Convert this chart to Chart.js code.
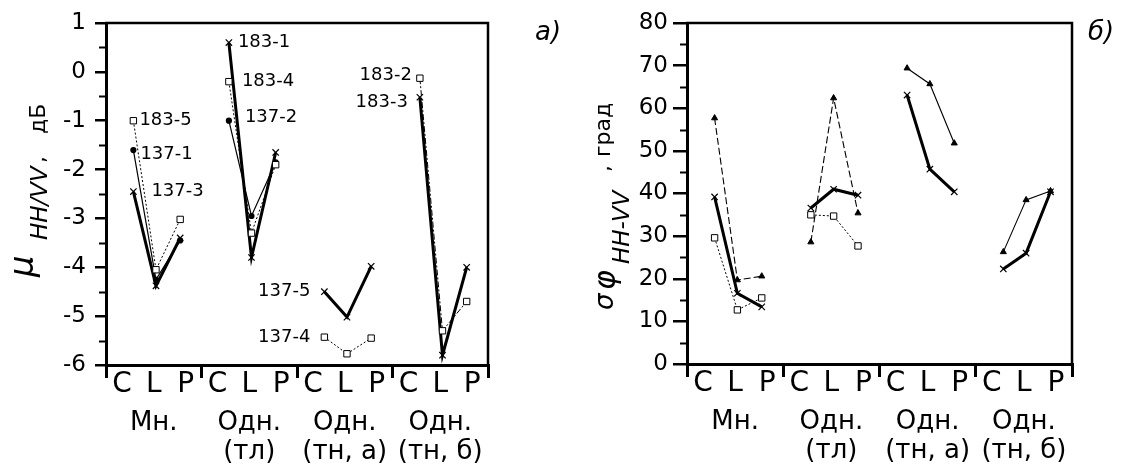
<!DOCTYPE html>
<html>
<head>
<meta charset="utf-8">
<script src="https://cdn.jsdelivr.net/npm/chart.js@4.4.1/dist/chart.umd.min.js"></script>
<style>
  body { margin: 0; background: #fff; }
  #wrap { position: relative; width: 1122px; height: 471px; }
  canvas { position: absolute; top: 0; }
</style>
</head>
<body>
<div id="wrap">
  <canvas id="muChart" width="575" height="471" style="left:0"></canvas>
  <canvas id="phiChart" width="561" height="471" style="left:561px"></canvas>
</div>
<script>
const CATS = ["C", "L", "P"];
const GROUPS = [["Мн."], ["Одн.", "(тл)"], ["Одн.", "(тн, а)"], ["Одн.", "(тн, б)"]];
// where the C, L, P points sit inside one group (a group is 3 axis units wide)
const CAT_POS = [0.86, 1.57, 2.33];
const MU_TICKS = [-6, -5, -4, -3, -2, -1, 0, 1];
const PHI_TICKS = [0, 10, 20, 30, 40, 50, 60, 70, 80];

// a) mu HH/VV, dB - one array per sample, values for C, L, P
const MU_183_5 = [-1.0, -4.05, -3.02];   // Мн.
const MU_137_1 = [-1.6, -4.25, -3.45];   // Мн.
const MU_137_3 = [-2.45, -4.38, -3.4];   // Мн.
const MU_183_1 = [0.6, -3.8, -1.65];     // Одн. (тл)
const MU_183_4 = [-0.2, -3.3, -1.9];     // Одн. (тл)
const MU_137_2 = [-1.0, -2.95, -1.85];   // Одн. (тл)
const MU_137_5 = [-4.5, -5.02, -3.98];   // Одн. (тн, а)
const MU_137_4 = [-5.43, -5.77, -5.45];  // Одн. (тн, а)
const MU_183_2 = [-0.13, -5.3, -4.7];    // Одн. (тн, б)
const MU_183_3 = [-0.52, -5.8, -4.0];    // Одн. (тн, б)

// б) sigma phi HH-VV, degrees
const PHI_MN_X = [39.2, 16.6, 13.4];
const PHI_MN_TRI = [57.7, 19.7, 20.6];
const PHI_MN_SQ = [29.6, 12.7, 15.5];
const PHI_TL_X = [36.6, 41.0, 39.6];
const PHI_TL_TRI = [28.6, 62.4, 35.4];
const PHI_TL_SQ = [35.0, 34.7, 27.7];
const PHI_TNA_X = [63.1, 45.7, 40.4];
const PHI_TNA_TRI = [69.4, 65.7, 51.8];
const PHI_TNB_X = [22.3, 26.0, 40.4];
const PHI_TNB_TRI = [26.3, 38.5, 40.6];

Chart.defaults.font.family = "'DejaVu Sans'";
Chart.defaults.color = "#000";

const FONT = "'DejaVu Sans'";

function pts(group, values) {
  return values.map((v, i) => ({ x: group * 3 + CAT_POS[i], y: v }));
}

const base = { borderColor: "#000", pointBorderColor: "#000", fill: false, tension: 0 };
const thick = { ...base, borderWidth: 3, pointStyle: "crossRot", pointRadius: 4.5, pointBorderWidth: 1.2 };
const dotted = { ...base, borderWidth: 1, borderDash: [2, 2], pointStyle: "rect", pointRadius: 4.5,
  pointBackgroundColor: "#fff", pointBorderWidth: 1 };
const dashDot = { ...dotted, borderDash: [6, 2, 2, 2] };
const thin = { ...base, borderWidth: 1.2, pointStyle: "circle", pointRadius: 2.5, pointBackgroundColor: "#000" };
const dashed = { ...base, borderWidth: 1.1, borderDash: [7, 3], pointStyle: "triangle", pointRadius: 3.5,
  pointBackgroundColor: "#000", pointBorderWidth: 1 };
const thinTri = { ...dashed, borderDash: [] };

// minor ticks on the y axis, between the labelled ones
const minorTicks = {
  id: "minorTicks",
  afterDraw(chart, args, opts) {
    const y = chart.scales.y;
    const ctx = chart.ctx;
    ctx.save();
    ctx.strokeStyle = "#000";
    ctx.lineWidth = 2;
    for (let k = 1; y.min + k * opts.step < y.max; k += 2) {
      const py = Math.round(y.getPixelForValue(y.min + k * opts.step)) + 0.5;
      ctx.beginPath();
      ctx.moveTo(y.right - opts.len, py);
      ctx.lineTo(y.right, py);
      ctx.stroke();
    }
    ctx.restore();
  }
};

// top and right edges of the box
const frame = {
  id: "frame",
  afterDraw(chart) {
    const { ctx, chartArea: a } = chart;
    ctx.save();
    ctx.strokeStyle = "#000";
    ctx.lineWidth = 2.5;
    ctx.beginPath();
    ctx.moveTo(a.left - 1, a.top);
    ctx.lineTo(a.right, a.top);
    ctx.lineTo(a.right, a.bottom);
    ctx.stroke();
    ctx.restore();
  }
};

// sample names next to the first point of a series
const tags = {
  id: "tags",
  afterDatasetsDraw(chart) {
    const ctx = chart.ctx;
    ctx.save();
    ctx.fillStyle = "#000";
    ctx.font = "18px " + FONT;
    ctx.textBaseline = "middle";
    chart.data.datasets.forEach((ds, i) => {
      if (!ds.tag) return;
      const p = chart.getDatasetMeta(i).data[0];
      ctx.textAlign = ds.tag.align;
      ctx.fillText(ds.label, p.x + ds.tag.dx, p.y + ds.tag.dy);
    });
    ctx.restore();
  }
};

// rotated y title made of pieces (so the subscript can sit lower) and the panel letter
const sideText = {
  id: "sideText",
  afterDraw(chart, args, opts) {
    const ctx = chart.ctx;
    ctx.save();
    ctx.fillStyle = "#000";
    ctx.textBaseline = "alphabetic";
    ctx.save();
    ctx.translate(0, opts.titleY);
    ctx.rotate(-Math.PI / 2);
    for (const p of opts.title) {
      ctx.font = p.font;
      ctx.fillText(p.text, p.at, p.base);
    }
    ctx.restore();
    ctx.font = "italic 26px " + FONT;
    ctx.fillText(opts.panel, opts.panelX, opts.panelY);
    ctx.restore();
  }
};

function makeScales(yMin, yMax, yTicks, yWidth, tickLen, tickPad, groupHeight) {
  return {
    x: {
      type: "linear", min: 0, max: 12,
      afterBuildTicks: s => { s.ticks = Array.from({ length: 25 }, (_, k) => ({ value: k * 0.5 })); },
      afterFit: s => { s.height = 40; },
      grid: {
        drawOnChartArea: false, tickLength: 13, lineWidth: 3,
        color: c => (c.tick && c.tick.value % 3 === 0 ? "#000" : "rgba(0,0,0,0)")
      },
      border: { display: true, color: "#000", width: 3 },
      ticks: {
        autoSkip: false, maxRotation: 0, minRotation: 0, padding: -7,
        font: { size: 28, lineHeight: 1 },
        callback: v => (v % 1 === 0.5 ? CATS[Math.floor(v) % 3] : "")
      }
    },
    xg: {
      type: "linear", position: "bottom", min: 0, max: 12,
      afterBuildTicks: s => { s.ticks = GROUPS.map((_, g) => ({ value: g * 3 + 1.5 })); },
      afterFit: s => { s.height = groupHeight; },
      grid: { display: false },
      border: { display: false },
      ticks: {
        autoSkip: false, maxRotation: 0, minRotation: 0, padding: -4,
        font: { size: 26, lineHeight: 1.1 },
        callback: v => GROUPS[Math.floor(v / 3)]
      }
    },
    y: {
      min: yMin, max: yMax,
      afterBuildTicks: s => { s.ticks = yTicks.map(v => ({ value: v })); },
      afterFit: s => { s.width = yWidth; },
      grid: { drawOnChartArea: false, tickLength: tickLen, lineWidth: 2.5, color: "#000" },
      border: { display: true, color: "#000", width: 3 },
      ticks: { padding: tickPad, font: { size: 23 }, callback: v => String(v) }
    }
  };
}

const muDatasets = [
  { label: "183-5", data: pts(0, MU_183_5), ...dotted, tag: { dx: 6, dy: 0, align: "left" } },
  { label: "137-1", data: pts(0, MU_137_1), ...thin, tag: { dx: 7, dy: 4, align: "left" } },
  { label: "137-3", data: pts(0, MU_137_3), ...thick, tag: { dx: 18, dy: 0, align: "left" } },
  { label: "183-4", data: pts(1, MU_183_4), ...dotted, tag: { dx: 13, dy: 0, align: "left" } },
  { label: "137-2", data: pts(1, MU_137_2), ...thin, tag: { dx: 16, dy: -3, align: "left" } },
  { label: "183-1", data: pts(1, MU_183_1), ...thick, tag: { dx: 9, dy: 0, align: "left" } },
  { label: "137-4", data: pts(2, MU_137_4), ...dotted, tag: { dx: -14, dy: 0, align: "right" } },
  { label: "137-5", data: pts(2, MU_137_5), ...thick, tag: { dx: -14, dy: 0, align: "right" } },
  { label: "183-2", data: pts(3, MU_183_2), ...dashDot, tag: { dx: -8, dy: -3, align: "right" } },
  { label: "183-3", data: pts(3, MU_183_3), ...thick, tag: { dx: -12, dy: 5, align: "right" } }
];

const phiDatasets = [
  { data: pts(0, PHI_MN_SQ), ...dotted },
  { data: pts(0, PHI_MN_TRI), ...dashed },
  { data: pts(0, PHI_MN_X), ...thick },
  { data: pts(1, PHI_TL_SQ), ...dotted },
  { data: pts(1, PHI_TL_TRI), ...dashed },
  { data: pts(1, PHI_TL_X), ...thick },
  { data: pts(2, PHI_TNA_TRI), ...thinTri },
  { data: pts(2, PHI_TNA_X), ...thick },
  { data: pts(3, PHI_TNB_TRI), ...thinTri },
  { data: pts(3, PHI_TNB_X), ...thick }
];

new Chart(document.getElementById("muChart"), {
  type: "line",
  data: { datasets: muDatasets },
  plugins: [minorTicks, frame, tags, sideText],
  options: {
    responsive: false,
    animation: false,
    layout: { padding: { left: 0, right: 87, top: 23, bottom: 0 } },
    scales: makeScales(-6, 1, MU_TICKS, 106, 11, 9, 66),
    plugins: {
      legend: { display: false },
      tooltip: { enabled: false },
      minorTicks: { step: 0.5, len: 7 },
      sideText: {
        titleY: 277,
        title: [
          { text: "μ", font: "italic 34px " + FONT, at: 0, base: 33 },
          { text: "HH/VV", font: "italic 23px " + FONT, at: 37, base: 47 },
          { text: ",", font: "22px " + FONT, at: 114, base: 45 },
          { text: "дБ", font: "22px " + FONT, at: 143, base: 45 }
        ],
        panel: "а)", panelX: 535, panelY: 40
      }
    }
  }
});

new Chart(document.getElementById("phiChart"), {
  type: "line",
  data: { datasets: phiDatasets },
  plugins: [minorTicks, frame, sideText],
  options: {
    responsive: false,
    animation: false,
    layout: { padding: { left: 0, right: 50, top: 23, bottom: 0 } },
    scales: makeScales(0, 80, PHI_TICKS, 126, 14, 5, 67),
    plugins: {
      legend: { display: false },
      tooltip: { enabled: false },
      minorTicks: { step: 5, len: 7 },
      sideText: {
        titleY: 310,
        title: [
          { text: "σ", font: "italic 26px " + FONT, at: 0, base: 52 },
          { text: "φ", font: "italic 30px " + FONT, at: 20, base: 54 },
          { text: "HH-VV", font: "italic 23px " + FONT, at: 46, base: 68 },
          { text: ",", font: "22px " + FONT, at: 138, base: 49 },
          { text: "град", font: "22px " + FONT, at: 153, base: 49 }
        ],
        panel: "б)", panelX: 527, panelY: 40
      }
    }
  }
});
</script>
</body>
</html>
